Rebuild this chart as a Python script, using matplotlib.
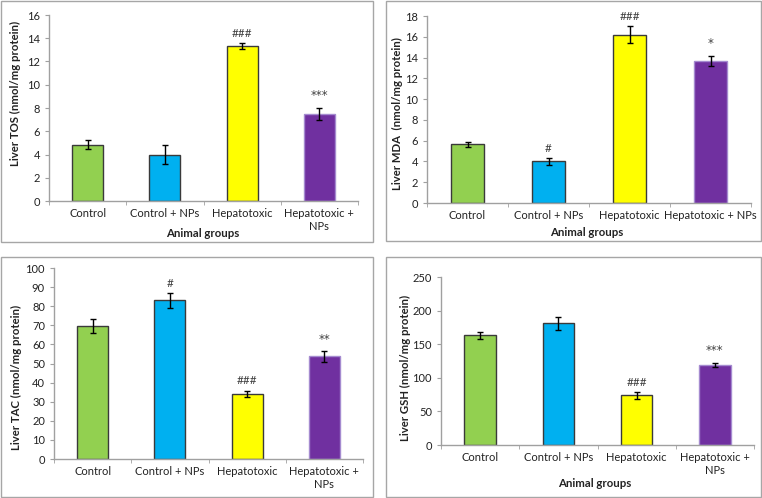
import matplotlib
matplotlib.use("Agg")
import matplotlib.pyplot as plt
from matplotlib.patches import Rectangle
import numpy as np

plt.rcParams['font.family'] = ['Lato', 'DejaVu Sans']

groups_wrapped = ["Control", "Control + NPs", "Hepatotoxic", "Hepatotoxic +\nNPs"]
groups_single = ["Control", "Control + NPs", "Hepatotoxic", "Hepatotoxic + NPs"]
colors = ["#92D050", "#00B0F0", "#FFFF00", "#7030A0"]
edgecolors = ["#3a3a3a", "#3a3a3a", "#3a3a3a", "#a58bd0"]

tos_mean = [4.85, 4.0, 13.3, 7.5]
tos_err = [0.4, 0.8, 0.25, 0.5]
tos_sig = ["", "", "###", "***"]

mda_mean = [5.65, 4.0, 16.2, 13.65]
mda_err = [0.25, 0.3, 0.8, 0.5]
mda_sig = ["", "#", "###", "*"]

tac_mean = [69.7, 83.0, 34.0, 53.7]
tac_err = [3.5, 4.0, 1.8, 2.8]
tac_sig = ["", "#", "###", "**"]

gsh_mean = [163, 181, 74, 119]
gsh_err = [5, 10, 5, 3]
gsh_sig = ["", "", "###", "***"]

W, H = 762, 498
fig = plt.figure(figsize=(W / 100, H / 100), dpi=100)

def px_axes(l, r, t, b):
    return fig.add_axes([l / W, 1 - b / H, (r - l) / W, (b - t) / H])

def border(l, r, t, b):
    fig.patches.append(Rectangle((l / W, 1 - b / H), (r - l) / W, (b - t) / H,
                                 transform=fig.transFigure, fill=False,
                                 edgecolor="#a6a6a6", linewidth=1.0))

def ftext(x, y, s, **kw):
    fig.text(x / W, 1 - y / H, s, ha="center", va="center", fontsize=8.2,
             fontweight="bold", color="#222222", **kw)

def panel(box, axbox, means, errs, sigs, ymax, ystep, ylabel, ylpos, labels, xlabel, xlpos):
    border(*box)
    ax = px_axes(*axbox)
    x = np.arange(len(means))
    ax.bar(x, means, width=0.4, color=colors, edgecolor=edgecolors, linewidth=1.0, zorder=2)
    ax.errorbar(x, means, yerr=errs, fmt="none", ecolor="black", elinewidth=1.0,
                capsize=2.5, capthick=1.0, zorder=3)
    for xi, m, e, s in zip(x, means, errs, sigs):
        if s:
            if "#" in s:
                ax.annotate(s, (xi, m + e), xytext=(0, 3), textcoords="offset points",
                            ha="center", va="bottom", fontsize=8.5, color="#404040")
            else:
                ax.annotate(s, (xi, m + e), xytext=(0, 4), textcoords="offset points",
                            ha="center", va="bottom", fontsize=8.5, color="#404040",
                            family="DejaVu Sans")
    ax.set_xlim(-0.5, len(means) - 0.5)
    ax.set_ylim(0, ymax)
    ax.set_yticks(np.arange(0, ymax + ystep / 2, ystep))
    ax.set_xticks(x)
    ax.set_xticklabels(labels, fontsize=8, color="#222222", linespacing=1.25)
    ax.set_xticks(np.arange(-0.5, len(means), 1.0), minor=True)
    ax.tick_params(axis="x", which="major", length=0, pad=5)
    ax.tick_params(axis="x", which="minor", length=3, color="#a0a0a0", direction="out")
    ax.tick_params(axis="y", length=3, color="#a0a0a0", labelsize=8, labelcolor="#222222")
    for sp in ["top", "right"]:
        ax.spines[sp].set_visible(False)
    for sp in ["left", "bottom"]:
        ax.spines[sp].set_color("#a0a0a0")
        ax.spines[sp].set_linewidth(1.0)
    ftext(ylpos[0], ylpos[1], ylabel, rotation=90)
    if xlabel:
        ftext(xlpos[0], xlpos[1], xlabel)
    return ax

panel((1, 373, 1, 242), (49, 358, 15, 201), tos_mean, tos_err, tos_sig, 16, 2,
      "Liver TOS (nmol/mg protein)", (15, 93), groups_wrapped, "Animal groups", (203, 233))
panel((386, 761, 1, 241), (427, 751, 16, 203), mda_mean, mda_err, mda_sig, 18, 2,
      "Liver MDA  (nmol/mg protein)", (397, 114), groups_single, "Animal groups", (587, 232))
panel((1, 373, 257, 497), (54, 363, 268, 459), tac_mean, tac_err, tac_sig, 100, 10,
      "Liver TAC (nmol/mg protein)", (16, 377), groups_wrapped, None, None)
panel((386, 761, 257, 497), (441, 754, 277, 445), gsh_mean, gsh_err, gsh_sig, 250, 50,
      "Liver GSH (nmol/mg protein)", (405, 368), groups_wrapped, "Animal groups", (595, 483))

fig.savefig("out.png", dpi=100)
